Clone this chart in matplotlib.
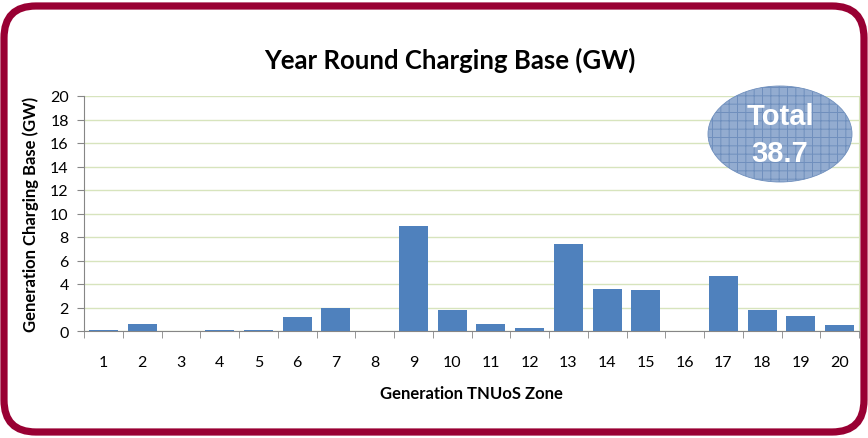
import numpy as np
import matplotlib
matplotlib.use("Agg")
import matplotlib.pyplot as plt
from matplotlib.patches import FancyBboxPatch, Ellipse

zones = [str(z) for z in range(1, 21)]
gw = [0.1, 0.6, 0.0, 0.1, 0.1, 1.2, 2.0, 0.0, 8.9, 1.8,
      0.6, 0.25, 7.4, 3.6, 3.5, 0.0, 4.7, 1.8, 1.3, 0.5]
total = "38.7"

W, H = 868, 439
plt.rcParams["font.family"] = ["Lato", "DejaVu Sans"]
plt.rcParams["hatch.color"] = "#4a72a8"
plt.rcParams["hatch.linewidth"] = 0.7

fig = plt.figure(figsize=(W / 100, H / 100), dpi=100)

# rounded maroon frame, drawn in pixel coords on a full-figure axes
bg = fig.add_axes([0, 0, 1, 1])
bg.set_xlim(0, W)
bg.set_ylim(H, 0)
bg.axis("off")
bg.add_patch(FancyBboxPatch((4, 7), 860, 426,
                            boxstyle="round,pad=0,rounding_size=32",
                            fc="white", ec="#990033", lw=5.2))

ax = fig.add_axes([84 / W, 1 - 332 / H, (859 - 84) / W, (332 - 97) / H])
x = np.arange(1, len(zones) + 1)
ax.bar(x, gw, width=0.75, color="#4f81bd", zorder=3)
ax.set_xlim(0.5, len(zones) + 0.5)
ax.set_ylim(0, 20)
ax.set_yticks(range(0, 21, 2))
ax.set_xticks(x)
ax.set_xticklabels(zones)
ax.set_xticks(np.arange(0.5, len(zones) + 1, 1), minor=True)
ax.tick_params(axis="x", which="major", length=0, pad=17, labelsize=11.5)
ax.tick_params(axis="x", which="minor", length=5, color="#868686", direction="out")
ax.tick_params(axis="y", length=5, color="#868686", labelsize=11.5, pad=6)
ax.grid(axis="y", color="#d7e4bd", lw=1, zorder=0)
ax.spines["top"].set_visible(False)
ax.spines["right"].set_color("#d7e4bd")
ax.spines["left"].set_color("#868686")
ax.spines["bottom"].set_color("#868686")

ax.set_ylabel("Generation Charging Base (GW)", fontsize=12, fontweight="bold", labelpad=8)
ax.set_xlabel("Generation TNUoS Zone", fontsize=12, fontweight="bold", labelpad=12)
fig.text(450 / W, 1 - 60 / H, "Year Round Charging Base (GW)", ha="center", va="center",
         fontsize=18.5, fontweight="bold")

# "Total" ellipse badge, on an overlay above the chart
top = fig.add_axes([0, 0, 1, 1])
top.set_xlim(0, W)
top.set_ylim(H, 0)
top.axis("off")
top.add_patch(Ellipse((780, 135), 144, 96, fc="#93acd0", ec="#6f8fbd", lw=0.6,
                      hatch="++"))
top.text(780, 117, "Total", ha="center", va="center", color="white", fontsize=21,
         fontweight="bold", family="Liberation Sans")
top.text(780, 154, total, ha="center", va="center", color="white", fontsize=21,
         fontweight="bold", family="Liberation Sans")

fig.savefig("out.png", dpi=100)
